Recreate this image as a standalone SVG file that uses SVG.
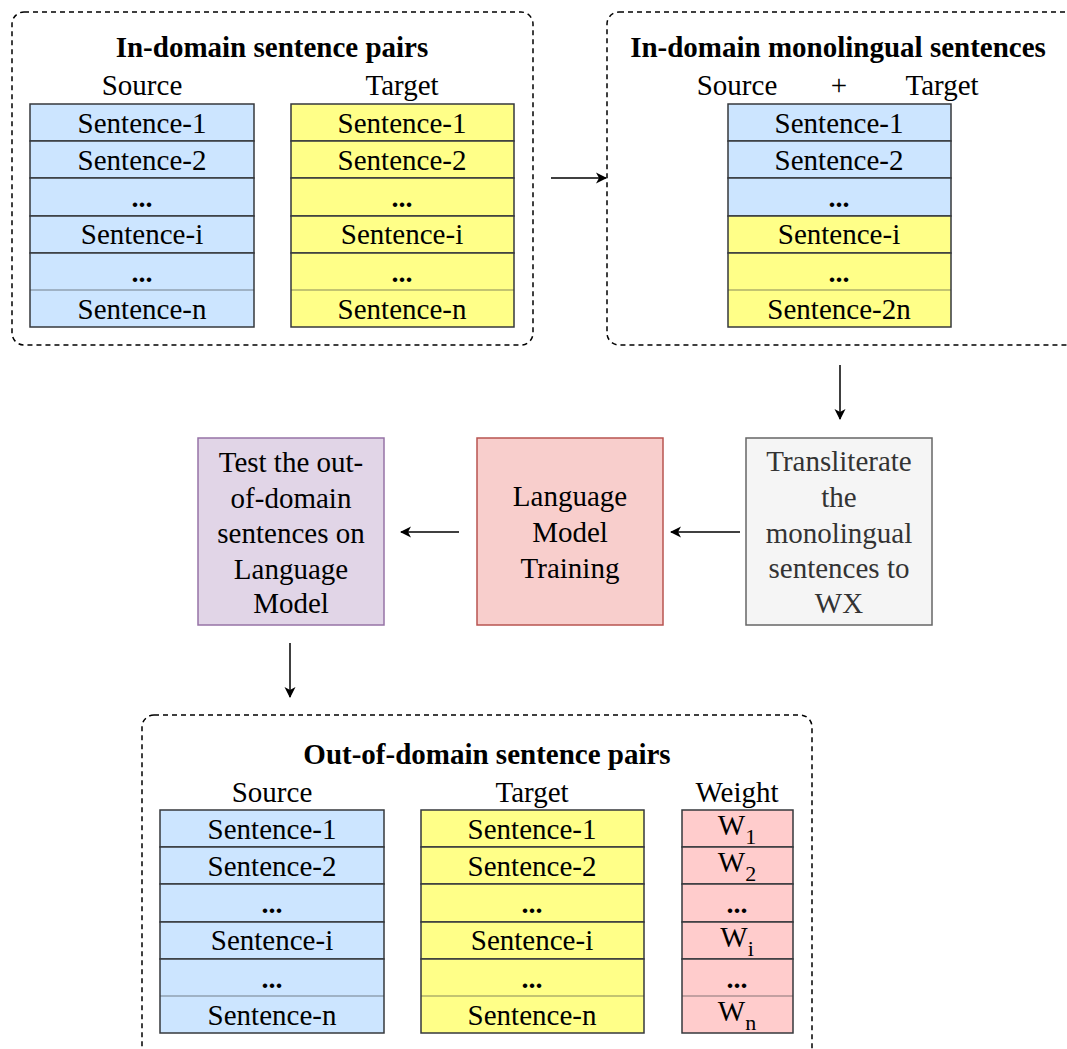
<svg xmlns="http://www.w3.org/2000/svg" width="1067" height="1049" viewBox="0 0 1067 1049">
<style>
text{font-family:"Liberation Serif","DejaVu Serif",serif;fill:#000;text-anchor:middle}
.t{font-size:29px;font-weight:bold}
.h{font-size:29px}
.c{font-size:29px}
.m{font-size:29px}
.b{font-size:28px;font-weight:bold}
.grp{fill:none;stroke:#000;stroke-width:1.5;stroke-dasharray:5 4}
.blue{fill:#cce5ff;stroke:#36393d;stroke-width:1.5}
.yel{fill:#ffff88;stroke:#36393d;stroke-width:1.5}
.pink{fill:#ffcccc;stroke:#36393d;stroke-width:1.5}
.thin{stroke:#36393d;stroke-width:0.6}
.conn{stroke:#000;stroke-width:1.5;fill:none;marker-end:url(#ah)}
</style>
<defs>
<marker id="ah" markerWidth="12" markerHeight="12" refX="10" refY="6" orient="auto" markerUnits="userSpaceOnUse">
<path d="M0,0.5 L11,6 L0,11.5 L3,6 Z" fill="#000"/>
</marker>
</defs>
<rect width="1067" height="1049" fill="#fff"/>

<g id="in-domain-pairs">
<rect class="grp" x="12" y="12" width="521" height="333" rx="12"/>
<text class="t" x="272" y="57">In-domain sentence pairs</text>
<text class="h" x="142" y="95">Source</text>
<text class="h" x="402" y="95">Target</text>
<rect class="blue" x="30" y="104" width="224" height="37"/>
<rect class="blue" x="30" y="141" width="224" height="37"/>
<rect class="blue" x="30" y="178" width="224" height="38"/>
<rect class="blue" x="30" y="216" width="224" height="37"/>
<rect class="blue" x="30" y="253" width="224" height="74"/>
<line class="thin" x1="30" y1="290" x2="254" y2="290"/>
<text class="c" x="142" y="133">Sentence-1</text>
<text class="c" x="142" y="170">Sentence-2</text>
<text class="b" x="142" y="207">...</text>
<text class="c" x="142" y="244">Sentence-i</text>
<text class="b" x="142" y="282">...</text>
<text class="c" x="142" y="319">Sentence-n</text>
<rect class="yel" x="291" y="104" width="223" height="37"/>
<rect class="yel" x="291" y="141" width="223" height="37"/>
<rect class="yel" x="291" y="178" width="223" height="38"/>
<rect class="yel" x="291" y="216" width="223" height="37"/>
<rect class="yel" x="291" y="253" width="223" height="74"/>
<line class="thin" x1="291" y1="290" x2="514" y2="290"/>
<text class="c" x="402" y="133">Sentence-1</text>
<text class="c" x="402" y="170">Sentence-2</text>
<text class="b" x="402" y="207">...</text>
<text class="c" x="402" y="244">Sentence-i</text>
<text class="b" x="402" y="282">...</text>
<text class="c" x="402" y="319">Sentence-n</text>
</g>

<g id="in-domain-mono">
<rect class="grp" x="607" y="12" width="475" height="333" rx="12"/>
<text class="t" x="838" y="57">In-domain monolingual sentences</text>
<text class="h" x="737" y="95">Source</text>
<text class="h" x="839" y="95">+</text>
<text class="h" x="942" y="95">Target</text>
<rect class="blue" x="728" y="104" width="223" height="37"/>
<rect class="blue" x="728" y="141" width="223" height="37"/>
<rect class="blue" x="728" y="178" width="223" height="38"/>
<rect class="yel" x="728" y="216" width="223" height="37"/>
<rect class="yel" x="728" y="253" width="223" height="74"/>
<line class="thin" x1="728" y1="290" x2="951" y2="290"/>
<text class="c" x="839" y="133">Sentence-1</text>
<text class="c" x="839" y="170">Sentence-2</text>
<text class="b" x="839" y="207">...</text>
<text class="c" x="839" y="244">Sentence-i</text>
<text class="b" x="839" y="282">...</text>
<text class="c" x="839" y="319">Sentence-2n</text>
</g>

<g id="transliterate">
<rect x="746" y="438" width="186" height="187" fill="#f5f5f5" stroke="#666666" stroke-width="1.5"/>
<text class="m" x="839" y="471" style="fill:#333">Transliterate</text>
<text class="m" x="839" y="507" style="fill:#333">the</text>
<text class="m" x="839" y="543" style="fill:#333">monolingual</text>
<text class="m" x="839" y="578" style="fill:#333">sentences to</text>
<text class="m" x="839" y="613" style="fill:#333">WX</text>
</g>

<g id="lm-training">
<rect x="477" y="438" width="186" height="187" fill="#f8cecc" stroke="#b85450" stroke-width="1.5"/>
<text class="m" x="570" y="506">Language</text>
<text class="m" x="570" y="542">Model</text>
<text class="m" x="570" y="578">Training</text>
</g>

<g id="test-ood">
<rect x="198" y="438" width="186" height="187" fill="#e1d5e7" stroke="#9673a6" stroke-width="1.5"/>
<text class="m" x="291" y="472">Test the out-</text>
<text class="m" x="291" y="508">of-domain</text>
<text class="m" x="291" y="543">sentences on</text>
<text class="m" x="291" y="579">Language</text>
<text class="m" x="291" y="613">Model</text>
</g>

<g id="out-domain-pairs">
<rect class="grp" x="142" y="715" width="670" height="360" rx="12"/>
<text class="t" x="487" y="764">Out-of-domain sentence pairs</text>
<text class="h" x="272" y="802">Source</text>
<text class="h" x="532" y="802">Target</text>
<text class="h" x="737" y="802">Weight</text>
<rect class="blue" x="160" y="810" width="224" height="37"/>
<rect class="blue" x="160" y="847" width="224" height="37"/>
<rect class="blue" x="160" y="884" width="224" height="38"/>
<rect class="blue" x="160" y="922" width="224" height="37"/>
<rect class="blue" x="160" y="959" width="224" height="74"/>
<line class="thin" x1="160" y1="996" x2="384" y2="996"/>
<text class="c" x="272" y="839">Sentence-1</text>
<text class="c" x="272" y="876">Sentence-2</text>
<text class="b" x="272" y="913">...</text>
<text class="c" x="272" y="950">Sentence-i</text>
<text class="b" x="272" y="988">...</text>
<text class="c" x="272" y="1025">Sentence-n</text>
<rect class="yel" x="421" y="810" width="223" height="37"/>
<rect class="yel" x="421" y="847" width="223" height="37"/>
<rect class="yel" x="421" y="884" width="223" height="38"/>
<rect class="yel" x="421" y="922" width="223" height="37"/>
<rect class="yel" x="421" y="959" width="223" height="74"/>
<line class="thin" x1="421" y1="996" x2="644" y2="996"/>
<text class="c" x="532" y="839">Sentence-1</text>
<text class="c" x="532" y="876">Sentence-2</text>
<text class="b" x="532" y="913">...</text>
<text class="c" x="532" y="950">Sentence-i</text>
<text class="b" x="532" y="988">...</text>
<text class="c" x="532" y="1025">Sentence-n</text>
<rect class="pink" x="682" y="810" width="111" height="37"/>
<rect class="pink" x="682" y="847" width="111" height="37"/>
<rect class="pink" x="682" y="884" width="111" height="38"/>
<rect class="pink" x="682" y="922" width="111" height="37"/>
<rect class="pink" x="682" y="959" width="111" height="74"/>
<line class="thin" x1="682" y1="996" x2="793" y2="996"/>
<text class="c" x="737" y="835">W<tspan font-size="22" dy="9">1</tspan></text>
<text class="c" x="737" y="872">W<tspan font-size="22" dy="9">2</tspan></text>
<text class="b" x="737" y="913">...</text>
<text class="c" x="737" y="947">W<tspan font-size="22" dy="9">i</tspan></text>
<text class="b" x="737" y="988">...</text>
<text class="c" x="737" y="1021">W<tspan font-size="22" dy="9">n</tspan></text>
</g>

<g id="connectors">
<line class="conn" x1="551" y1="178" x2="606" y2="178"/>
<line class="conn" x1="840" y1="365" x2="840" y2="419"/>
<line class="conn" x1="740" y1="532" x2="671" y2="532"/>
<line class="conn" x1="459" y1="532" x2="401" y2="532"/>
<line class="conn" x1="290" y1="643" x2="290" y2="697"/>
</g>
</svg>
